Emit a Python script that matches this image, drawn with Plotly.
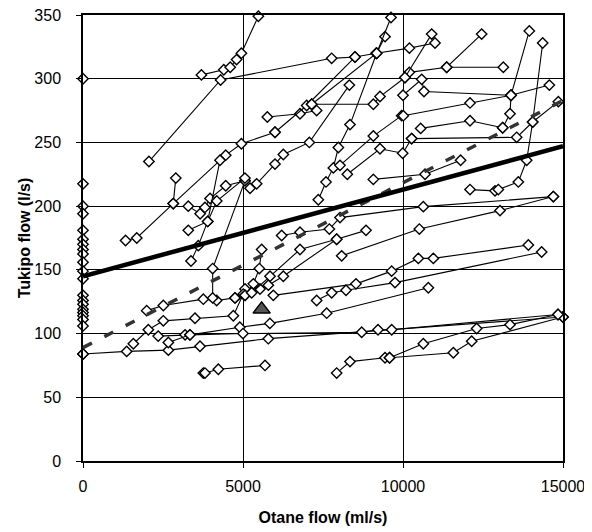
import plotly.graph_objects as go

# ---- data (Otane flow ml/s, Tukipo flow l/s) ----
x_ticks = [0, 5000, 10000, 15000]
y_ticks = [0, 50, 100, 150, 200, 250, 300, 350]

zero_col_x = [0] * 21
zero_col_y = [300, 217.5, 200, 194, 181, 174, 170, 166, 162.5, 156, 149, 143, 130, 126, 123, 119, 116.5, 114, 111, 106, 84]

s01_x = [3700, 4400, 4600, 4800, 4950, 5480]; s01_y = [303, 307, 309, 315, 320, 349]
s02_x = [2060, 4300, 7770, 8500, 9160, 10200, 11000]; s02_y = [235, 299, 316, 317, 320, 324, 328]
s03_x = [1330, 1680, 2820, 4460, 4950, 6000]; s03_y = [173, 175, 202, 240, 249, 258]
s04_x = [2820, 2900]; s04_y = [202, 222]
s05_x = [5760, 6781, 7302]; s05_y = [270, 272.5, 275]
s06_x = [6000, 6990, 8500]; s06_y = [258, 279, 317]
s07_x = [7146, 9177, 9438]; s07_y = [280, 320, 333]
s08_x = [7146, 9073, 9281, 10063]; s08_y = [280, 280, 286, 301]
s09_x = [5219, 5427, 6000, 6260, 7073, 8323]; s09_y = [214, 217.5, 233, 240.5, 250, 295]
s10_x = [7354, 7594, 7823, 7980, 8344, 9177, 9625]; s10_y = [205, 219, 230, 246, 264, 320, 348]
s11_x = [8031, 9073, 9958]; s11_y = [232, 255, 271]
s12_x = [8260, 9281, 9990, 10271]; s12_y = [225, 245, 241.5, 253]
s13_x = [9073, 10688, 11800]; s13_y = [221, 225, 236]
s14_x = [10198, 11365, 12458]; s14_y = [305, 309, 335]
s15_x = [11365, 13135]; s15_y = [309, 309]
s16_x = [10060, 10896]; s16_y = [301, 335]
s17_x = [13947, 13375, 13344, 13115]; s17_y = [337.5, 287, 272.5, 261.5]
s18_x = [12094, 12875, 12979, 13604, 13865, 14052, 14365]; s18_y = [213, 212, 213, 219, 236, 266, 328]
s19_x = [10000, 10584, 10656, 13375, 14573]; s19_y = [287, 299.5, 290, 287, 295]
s20_x = [10010, 12094, 13375]; s20_y = [271, 281, 287]
s21_x = [10552, 12094, 13115]; s21_y = [261, 267, 261.5]
s22_x = [10271, 13552, 14052, 14854]; s22_y = [253, 254, 266, 282]
s23_x = [6208, 6781, 7698, 8031, 10635, 14698]; s23_y = [177, 179.5, 182, 191, 199.6, 207.5]
s24_x = [8083, 10510, 13031, 14698]; s24_y = [161, 182, 196.5, 207.5]
s25_x = [5948, 8531, 9646, 10479, 10948, 13917]; s25_y = [130, 139, 149, 159, 159, 169.5]
s26_x = [7302, 7771, 8219, 9750, 14333]; s26_y = [126, 132, 134, 140, 164]
s27_x = [2350, 3190, 3340, 4900, 5840, 7615, 10792]; s27_y = [98, 99, 99, 105, 108, 116, 136]
s28_x = [0, 1365, 2667, 3656, 5790, 15000]; s28_y = [84, 86, 87, 90, 96, 113]
s29_x = [2667, 3344, 5000, 8709, 9219, 9646, 14844]; s29_y = [93, 99, 100, 101, 103, 103, 115]
s30_x = [3760, 3812, 4229, 5688]; s30_y = [69, 69, 72, 75]
s31_x = [7927, 8344, 9438, 9580, 11573, 12146, 15000]; s31_y = [69, 78, 81, 81, 85, 94, 113]
s32_x = [9580, 10635, 12302, 13344, 14844]; s32_y = [81, 92, 104, 107, 115]
s33_x = [1990, 2510, 3760, 4177, 4750, 5063]; s33_y = [118, 122, 127, 126, 128, 135]
s34_x = [1573, 2042, 2510, 3500, 4698, 5010]; s34_y = [92, 103, 110, 112, 114, 131]
s35_x = [4052, 4052, 5063]; s35_y = [128, 151, 220]
s36_x = [3290, 3660, 3810, 3970, 4460, 5060]; s36_y = [200, 194, 199, 206, 216, 220]
s37_x = [3290, 3900, 4180, 5060]; s37_y = [181, 188, 204, 222]
s38_x = [3375, 3604, 3896, 4281]; s38_y = [157, 169, 188, 236]
s39_x = [4750, 5063, 5323, 5510, 5583]; s39_y = [128, 130, 139, 151, 166]
s40_x = [5063, 5531, 5792, 6260, 7927, 8844]; s40_y = [130, 135, 138, 145, 174, 181]
s41_x = [5271, 5844, 6781, 7927]; s41_y = [132, 145, 166, 174]

series = [
    (s01_x, s01_y), (s02_x, s02_y), (s03_x, s03_y), (s04_x, s04_y), (s05_x, s05_y),
    (s06_x, s06_y), (s07_x, s07_y), (s08_x, s08_y), (s09_x, s09_y), (s10_x, s10_y),
    (s11_x, s11_y), (s12_x, s12_y), (s13_x, s13_y), (s14_x, s14_y), (s15_x, s15_y),
    (s16_x, s16_y), (s17_x, s17_y), (s18_x, s18_y), (s19_x, s19_y), (s20_x, s20_y),
    (s21_x, s21_y), (s22_x, s22_y), (s23_x, s23_y), (s24_x, s24_y), (s25_x, s25_y),
    (s26_x, s26_y), (s27_x, s27_y), (s28_x, s28_y), (s29_x, s29_y), (s30_x, s30_y),
    (s31_x, s31_y), (s32_x, s32_y), (s33_x, s33_y), (s34_x, s34_y), (s35_x, s35_y),
    (s36_x, s36_y), (s37_x, s37_y), (s38_x, s38_y), (s39_x, s39_y), (s40_x, s40_y),
    (s41_x, s41_y),
]

fit_solid_x = [0, 15000]; fit_solid_y = [145, 247]
fit_dash_x = [0, 15000]; fit_dash_y = [89, 283]
triangle_x = [5583]; triangle_y = [119]

fig = go.Figure()

marker_style = dict(symbol="diamond", size=8, color="white", line=dict(color="black", width=1.4))

for sx, sy in series:
    fig.add_trace(go.Scatter(x=sx, y=sy, mode="lines+markers",
                             line=dict(color="black", width=1.1),
                             marker=marker_style, cliponaxis=False,
                             showlegend=False, hoverinfo="x+y"))

fig.add_trace(go.Scatter(x=zero_col_x, y=zero_col_y, mode="markers",
                         marker=marker_style, cliponaxis=False, showlegend=False))

fig.add_trace(go.Scatter(x=fit_dash_x, y=fit_dash_y, mode="lines",
                         line=dict(color="#333333", width=3.5, dash="10px,14px"),
                         showlegend=False))
fig.add_trace(go.Scatter(x=fit_solid_x, y=fit_solid_y, mode="lines",
                         line=dict(color="black", width=4.5), showlegend=False))
fig.add_trace(go.Scatter(x=triangle_x, y=triangle_y, mode="markers",
                         marker=dict(symbol="triangle-up", size=15, color="#555555",
                                     line=dict(color="black", width=1.5)),
                         showlegend=False))

font_family = "Liberation Sans, Arial"
axis_common = dict(showgrid=True, gridcolor="black", gridwidth=1.3,
                   showline=True, linecolor="black", linewidth=1.5, mirror=True,
                   ticks="outside", ticklen=5, tickcolor="black",
                   zeroline=False, automargin=False, ticklabeloverflow="allow",
                   tickfont=dict(family=font_family, size=16, color="black"))

fig.update_xaxes(range=[0, 15000], tickvals=x_ticks, ticktext=[str(v) for v in x_ticks],
                 ticklabelstandoff=5,
                 title=dict(text="<b>Otane flow (ml/s)</b>", standoff=18,
                            font=dict(family=font_family, size=16, color="black")),
                 **axis_common)
fig.update_yaxes(range=[0, 350], tickvals=y_ticks, ticktext=[str(v) for v in y_ticks],
                 ticklabelstandoff=12,
                 title=dict(text="<b>Tukipo flow (l/s)</b>", standoff=0,
                            font=dict(family=font_family, size=16, color="black")),
                 **axis_common)

# page body has an 8px margin, so the figure is offset by (8, 8) in the window
fig.update_layout(width=592, height=532, plot_bgcolor="white", paper_bgcolor="white",
                  margin=dict(l=75, r=37, t=7, b=79), showlegend=False)

fig.write_html("out.html")
